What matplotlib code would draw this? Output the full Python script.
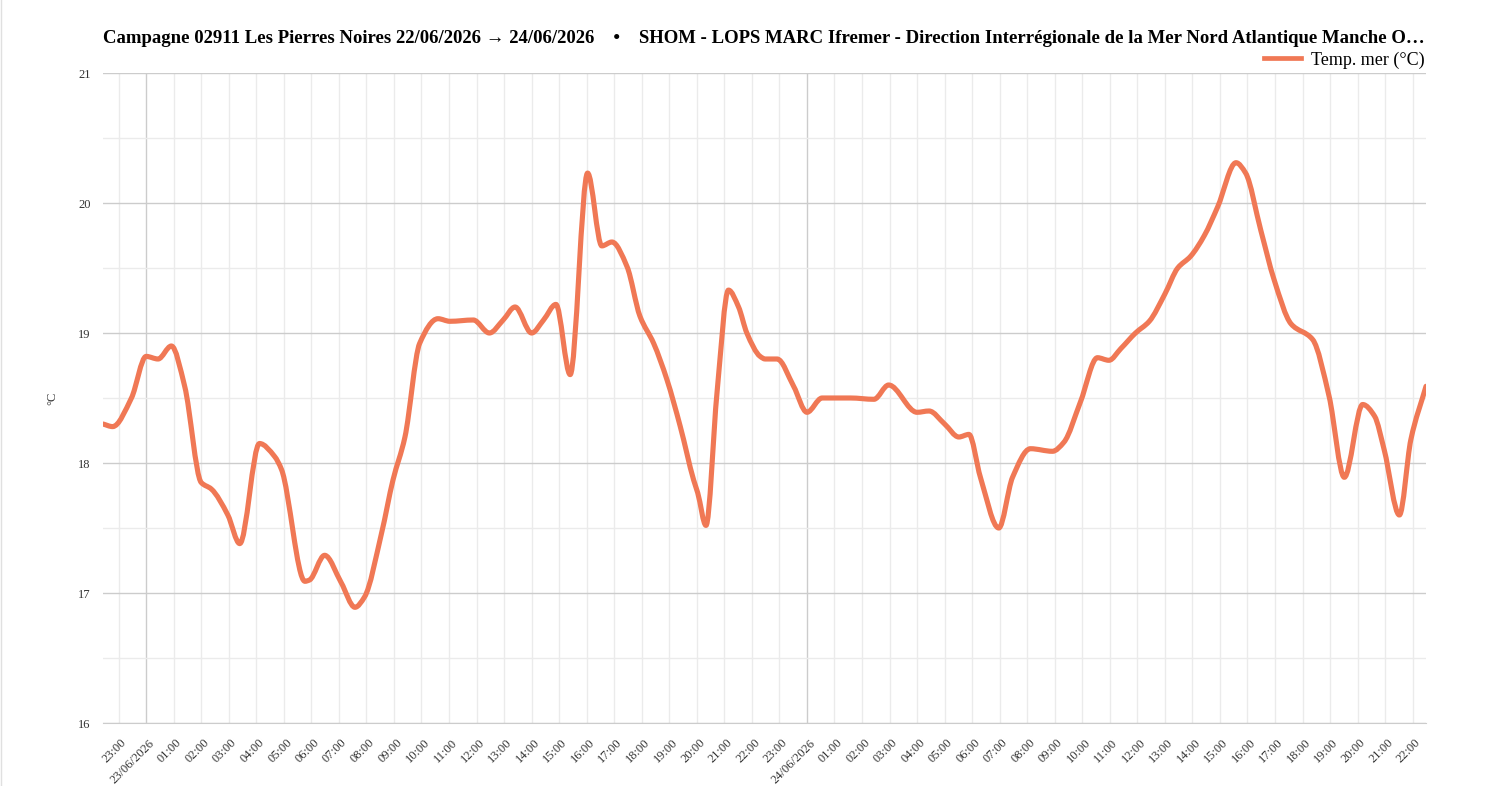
import matplotlib
matplotlib.use("Agg")
import matplotlib.pyplot as plt
import matplotlib.dates as mdates
import numpy as np
import pandas as pd
from matplotlib.path import Path
from matplotlib.patches import PathPatch
from matplotlib.lines import Line2D
from matplotlib.transforms import ScaledTranslation

plt.rcParams['font.family'] = ['Liberation Serif', 'DejaVu Serif']

# sea temperature readings
times = [
    "2026-06-22 22:26", "2026-06-22 22:47", "2026-06-22 23:28", "2026-06-23 00:00",
    "2026-06-23 00:26", "2026-06-23 00:55", "2026-06-23 01:24", "2026-06-23 02:00",
    "2026-06-23 02:22", "2026-06-23 02:58", "2026-06-23 03:24", "2026-06-23 04:07",
    "2026-06-23 04:40", "2026-06-23 04:55", "2026-06-23 05:46", "2026-06-23 05:56",
    "2026-06-23 06:29", "2026-06-23 07:05", "2026-06-23 07:35", "2026-06-23 07:56",
    "2026-06-23 08:33", "2026-06-23 08:58", "2026-06-23 09:24", "2026-06-23 09:56",
    "2026-06-23 10:36", "2026-06-23 11:02", "2026-06-23 11:53", "2026-06-23 12:28",
    "2026-06-23 12:58", "2026-06-23 13:24", "2026-06-23 14:00", "2026-06-23 14:26",
    "2026-06-23 14:53", "2026-06-23 15:24", "2026-06-23 16:02", "2026-06-23 16:33",
    "2026-06-23 16:55", "2026-06-23 17:28", "2026-06-23 17:56", "2026-06-23 18:26",
    "2026-06-23 18:55", "2026-06-23 19:24", "2026-06-23 19:53", "2026-06-23 20:02",
    "2026-06-23 20:20", "2026-06-23 20:44", "2026-06-23 21:09", "2026-06-23 21:31",
    "2026-06-23 21:49", "2026-06-23 22:18", "2026-06-23 22:29", "2026-06-23 22:55",
    "2026-06-23 23:31", "2026-06-24 00:00", "2026-06-24 00:33", "2026-06-24 01:35",
    "2026-06-24 02:26", "2026-06-24 02:58", "2026-06-24 04:00", "2026-06-24 04:26",
    "2026-06-24 05:00", "2026-06-24 05:31", "2026-06-24 05:53", "2026-06-24 06:18",
    "2026-06-24 06:58", "2026-06-24 07:28", "2026-06-24 08:07", "2026-06-24 08:55",
    "2026-06-24 09:20", "2026-06-24 09:56", "2026-06-24 10:33", "2026-06-24 10:58",
    "2026-06-24 11:24", "2026-06-24 11:56", "2026-06-24 12:26", "2026-06-24 13:00",
    "2026-06-24 13:28", "2026-06-24 13:56", "2026-06-24 14:26", "2026-06-24 14:55",
    "2026-06-24 15:35", "2026-06-24 15:56", "2026-06-24 16:29", "2026-06-24 16:58",
    "2026-06-24 17:35", "2026-06-24 18:22", "2026-06-24 18:58", "2026-06-24 19:31",
    "2026-06-24 20:11", "2026-06-24 20:37", "2026-06-24 20:58", "2026-06-24 21:31",
    "2026-06-24 21:56", "2026-06-24 22:29",
]
temp_mer = [
    18.30, 18.28, 18.50, 18.82,
    18.80, 18.90, 18.59, 17.85,
    17.80, 17.60, 17.38, 18.15,
    18.05, 17.95, 17.09, 17.10,
    17.29, 17.08, 16.89, 16.97,
    17.46, 17.87, 18.20, 18.92,
    19.11, 19.09, 19.10, 19.00,
    19.10, 19.20, 19.00, 19.10,
    19.22, 18.68, 20.23, 19.67,
    19.70, 19.51, 19.13, 18.92,
    18.64, 18.28, 17.87, 17.77,
    17.52, 18.54, 19.33, 19.20,
    19.00, 18.82, 18.80, 18.80,
    18.59, 18.39, 18.50, 18.50,
    18.49, 18.60, 18.39, 18.40,
    18.30, 18.20, 18.22, 17.89,
    17.50, 17.89, 18.11, 18.09,
    18.16, 18.47, 18.81, 18.79,
    18.88, 19.00, 19.09, 19.30,
    19.50, 19.59, 19.75, 19.97,
    20.31, 20.23, 19.79, 19.41,
    19.07, 18.95, 18.51, 17.89,
    18.45, 18.36, 18.10, 17.60,
    18.18, 18.59,
]

title = ("Campagne 02911 Les Pierres Noires 22/06/2026 \u2192 24/06/2026    \u2022    "
         "SHOM - LOPS MARC Ifremer - Direction Interr\u00e9gionale de la Mer Nord Atlantique Manche O\u2026")
series_name = "Temp. mer (\u00b0C)"
line_color = "#f07855"

x = mdates.date2num(pd.to_datetime(times))
y = np.array(temp_mer)


def smooth_path(x, y):
    # monotone cubic bezier through the points (curve smoothing, like the web chart)
    h = np.diff(x)
    d = np.diff(y) / h
    m = np.zeros_like(y)
    m[0], m[-1] = d[0], d[-1]
    for i in range(1, len(y) - 1):
        if d[i - 1] * d[i] <= 0:
            m[i] = 0
        else:
            w1 = 2 * h[i] + h[i - 1]
            w2 = h[i] + 2 * h[i - 1]
            m[i] = (w1 + w2) / (w1 / d[i - 1] + w2 / d[i])
    verts = [(x[0], y[0])]
    codes = [Path.MOVETO]
    for i in range(len(x) - 1):
        verts += [(x[i] + h[i] / 3, y[i] + m[i] * h[i] / 3),
                  (x[i + 1] - h[i] / 3, y[i + 1] - m[i + 1] * h[i] / 3),
                  (x[i + 1], y[i + 1])]
        codes += [Path.CURVE4] * 3
    return Path(verts, codes)


fig = plt.figure(figsize=(14.98, 7.86), dpi=100)
ax = fig.add_axes([103 / 1498, 63 / 786, 1323 / 1498, 650 / 786])

patch = PathPatch(smooth_path(x, y), facecolor="none", edgecolor=line_color,
                  lw=3.7, capstyle="round", joinstyle="round", zorder=3)
ax.add_patch(patch)

ax.set_xlim(x[0], x[-1])
ax.set_ylim(16, 21)

# y axis
ax.set_yticks(np.arange(16, 22, 1))
ax.set_yticks(np.arange(16.5, 21, 1), minor=True)
ax.grid(True, which="major", axis="y", color="#cccccc", lw=1)
ax.grid(True, which="minor", axis="y", color="#ebebeb", lw=1)
ax.tick_params(axis="y", which="both", length=0, pad=9, labelsize=9, labelcolor="#333333")

# x axis: hourly ticks, dates at midnight
hours = pd.date_range("2026-06-22 23:00", "2026-06-24 22:00", freq="h")
ax.set_xticks(mdates.date2num(hours))
ax.set_xticklabels([h.strftime("%d/%m/%Y") if h.hour == 0 else h.strftime("%H:%M") for h in hours])
ax.tick_params(axis="x", length=0, pad=10, labelsize=9, labelcolor="#333333")
for h, lab in zip(hours, ax.get_xticklabels()):
    lab.set_rotation(45)
    lab.set_ha("right")
    lab.set_va("top")
    lab.set_rotation_mode("anchor")
    lab.set_transform(lab.get_transform() + ScaledTranslation(2 / 100, 0, fig.dpi_scale_trans))
for h in hours:
    ax.axvline(mdates.date2num(h), color="#cccccc" if h.hour == 0 else "#ebebeb", lw=1, zorder=0)

for side in ["top", "left", "right"]:
    ax.spines[side].set_visible(False)
ax.spines["bottom"].set_color("#cccccc")
ax.set_axisbelow(True)

fig.text(52 / 1498, 1 - 398 / 786, "\u00b0C", rotation=90, ha="center", va="center",
         fontsize=9, color="#333333")
fig.text(764 / 1498, 1 - 38.5 / 786, title, ha="center", va="center",
         fontsize=13.5, fontweight="bold", color="#000000")

handle = Line2D([], [], color=line_color, lw=3.4)
fig.legend([handle], [series_name], loc="center right", frameon=False,
           bbox_to_anchor=(1432 / 1498, 1 - 60 / 786), fontsize=13,
           handlelength=2.05, handletextpad=0.55, borderaxespad=0)

fig.add_artist(Line2D([1 / 1498, 1 / 1498], [0, 1], color="#e0e0e0", lw=1))

fig.savefig("out.png", dpi=100)
